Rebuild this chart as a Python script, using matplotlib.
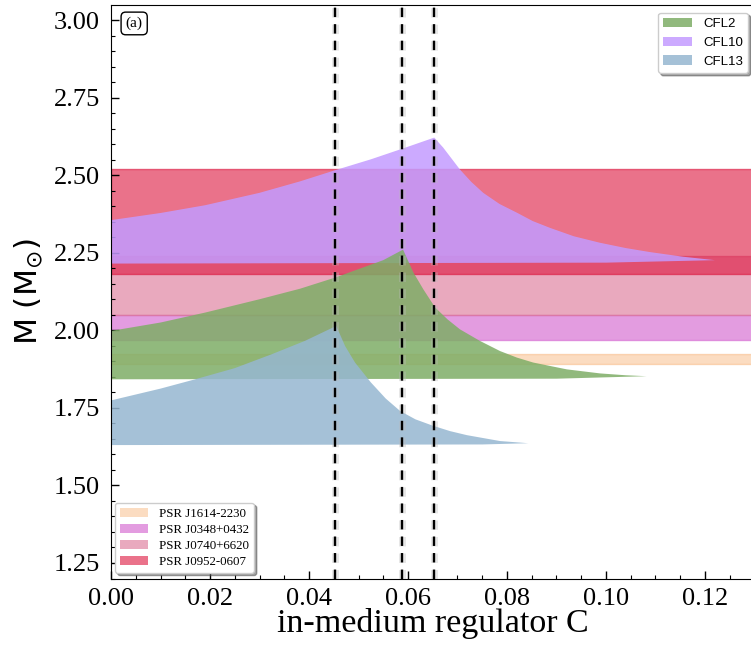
import numpy as np
import matplotlib
matplotlib.use("Agg")
import matplotlib.pyplot as plt
import matplotlib.patheffects as pe
from matplotlib.patches import Patch

# pulsar mass constraints (lower, upper) in solar masses
psr_names = ["PSR J1614-2230", "PSR J0348+0432", "PSR J0740+6620", "PSR J0952-0607"]
psr_low = [1.892, 1.97, 2.05, 2.18]
psr_high = [1.924, 2.05, 2.24, 2.52]
psr_colors = ["#f6a55e", "#d873d4", "#db7093", "#dc143c"]
psr_alpha = [0.38, 0.7, 0.6, 0.6]

# CFL2: upper boundary (rise to peak, then decay to tip) and lower boundary
cfl2_c_up = [0, 0.010, 0.019, 0.030, 0.0382, 0.0453, 0.055, 0.059, 0.0611, 0.0631, 0.0655,
             0.068, 0.0705, 0.0745, 0.0786, 0.082, 0.0853, 0.0921, 0.0988, 0.1040, 0.1082]
cfl2_m_up = [1.998, 2.025, 2.057, 2.10, 2.134, 2.17, 2.226, 2.26, 2.186, 2.132, 2.073,
             2.035, 2.003, 1.966, 1.933, 1.912, 1.896, 1.874, 1.861, 1.855, 1.852]
cfl2_c_lo = [0, 0.090, 0.1082]
cfl2_m_lo = [1.842, 1.844, 1.852]

# CFL10
cfl10_c_up = [0, 0.010, 0.019, 0.030, 0.0382, 0.0453, 0.0525, 0.0588, 0.0653, 0.0671,
              0.0705, 0.0728, 0.0752, 0.0785, 0.0820, 0.0852, 0.0887, 0.0935, 0.0988,
              0.1040, 0.1089, 0.1156, 0.122]
cfl10_m_up = [2.355, 2.378, 2.403, 2.443, 2.48, 2.516, 2.551, 2.585, 2.621, 2.589,
              2.518, 2.478, 2.443, 2.407, 2.379, 2.352, 2.330, 2.303, 2.282,
              2.265, 2.252, 2.237, 2.226]
cfl10_c_lo = [0, 0.100, 0.122]
cfl10_m_lo = [2.215, 2.218, 2.226]

# CFL13
cfl13_c_up = [0, 0.010, 0.017, 0.025, 0.0325, 0.0392, 0.0455, 0.0473, 0.0493, 0.0525,
              0.0555, 0.0584, 0.0615, 0.0651, 0.0685, 0.0719, 0.0786, 0.0843]
cfl13_m_up = [1.774, 1.812, 1.842, 1.878, 1.923, 1.966, 2.014, 1.949, 1.896, 1.832,
              1.780, 1.740, 1.713, 1.692, 1.675, 1.662, 1.643, 1.636]
cfl13_c_lo = [0, 0.075, 0.0843]
cfl13_m_lo = [1.630, 1.632, 1.636]

cfl_names = ["CFL2", "CFL10", "CFL13"]
cfl_colors = ["#7ead66", "#c39bff", "#96b7d1"]
cfl_alpha = 0.85

# critical C values (peaks)
c_lines = [0.0453, 0.0588, 0.0653]

plt.rcParams['font.family'] = ['Liberation Serif', 'DejaVu Serif']
plt.rcParams['mathtext.fontset'] = 'dejavusans'

fig = plt.figure(figsize=(7.51, 6.45), dpi=100)
ax = fig.add_axes([111 / 751, 1 - 578.5 / 645, 643.5 / 751, 574 / 645])

for lo, hi, col, a in zip(psr_low, psr_high, psr_colors, psr_alpha):
    ax.axhspan(lo, hi, facecolor=col, edgecolor=col, alpha=a, lw=1, zorder=1)

cfl_data = [
    (cfl10_c_up, cfl10_m_up, cfl10_c_lo, cfl10_m_lo, cfl_colors[1]),
    (cfl2_c_up, cfl2_m_up, cfl2_c_lo, cfl2_m_lo, cfl_colors[0]),
    (cfl13_c_up, cfl13_m_up, cfl13_c_lo, cfl13_m_lo, cfl_colors[2]),
]
for c_up, m_up, c_lo, m_lo, col in cfl_data:
    xs = np.r_[c_up, c_lo[::-1]]
    ys = np.r_[m_up, m_lo[::-1]]
    ax.fill(xs, ys, color=col, alpha=cfl_alpha, lw=0, zorder=2)

for c in c_lines:
    ax.axvline(c, color='black', ls=(0, (4, 3)), lw=1.7, zorder=4,
               path_effects=[pe.Stroke(linewidth=5, foreground='#bbbbbb', alpha=0.35), pe.Normal()])

ax.set_xlim(0, 0.13)
ax.set_ylim(1.2, 3.05)
ax.set_xticks(np.arange(0, 0.121, 0.02))
ax.set_xticks(np.arange(0, 0.131, 0.005), minor=True)
ax.set_yticks([1.25, 1.50, 1.75, 2.00, 2.25, 2.50, 2.75, 3.00])
ax.set_yticks(np.arange(1.2, 3.05, 0.05), minor=True)
ax.tick_params(which='both', direction='in', labelsize=19)
ax.tick_params(axis='y', which='both', pad=8)
ax.tick_params(axis='x', which='both', pad=6.5)
ax.tick_params(which='major', length=6, width=1)
ax.tick_params(which='minor', length=3, width=0.8)
ax.xaxis.set_major_formatter(matplotlib.ticker.FormatStrFormatter('%.2f'))
ax.yaxis.set_major_formatter(matplotlib.ticker.FormatStrFormatter('%.2f'))

ax.set_xlabel("in-medium regulator C", fontsize=24.5, labelpad=-1)
ax.set_ylabel(r"M (M$_{\odot}$)", fontsize=22.5, family='DejaVu Sans', labelpad=6)

ax.text(0.036, 0.967, "(a)", transform=ax.transAxes, fontsize=11, ha='center', va='center',
        bbox=dict(boxstyle='round,pad=0.3', fc='white', ec='black', lw=1), zorder=6)

cfl_handles = [Patch(facecolor=col, alpha=cfl_alpha, lw=0) for col in cfl_colors]
leg1 = ax.legend(cfl_handles, cfl_names, loc='upper right', bbox_to_anchor=(0.99, 0.986),
                 borderaxespad=0, prop={'family': 'Liberation Sans', 'size': 9.5},
                 fancybox=True, shadow=True, framealpha=1, handlelength=2.2)
ax.add_artist(leg1)

psr_handles = [Patch(facecolor=col, alpha=a, lw=0) for col, a in zip(psr_colors, psr_alpha)]
ax.legend(psr_handles, psr_names, loc='lower left', bbox_to_anchor=(0.006, 0.01),
          borderaxespad=0, prop={'family': 'Liberation Serif', 'size': 9.3},
          fancybox=True, shadow=True, framealpha=1, labelspacing=0.3, handlelength=2.2)

fig.savefig("out.png", dpi=100)
